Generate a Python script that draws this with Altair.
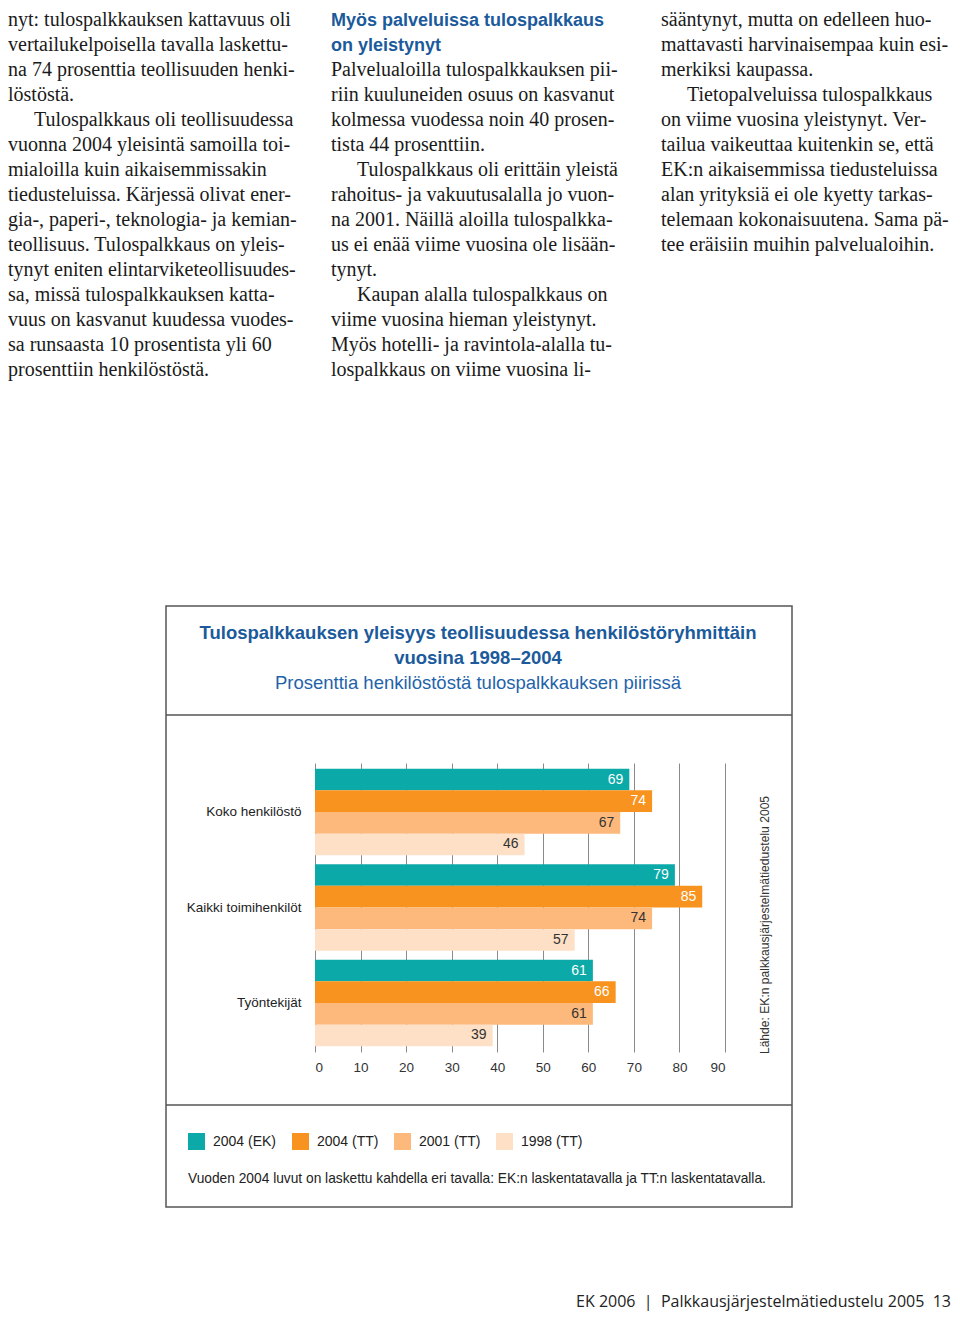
import altair as alt
import pandas as pd

# ---------------- data ----------------
groups = ["Koko henkilöstö", "Kaikki toimihenkilöt", "Työntekijät"]
series = ["2004 (EK)", "2004 (TT)", "2001 (TT)", "1998 (TT)"]
vals_2004_ek = [69, 79, 61]
vals_2004_tt = [74, 85, 66]
vals_2001_tt = [67, 74, 61]
vals_1998_tt = [46, 57, 39]
x_ticks = [0, 10, 20, 30, 40, 50, 60, 70, 80, 90]

colors = ["#0BAAA8", "#F7931E", "#FDB97B", "#FDE0C5"]

title_lines = ["Tulospalkkauksen yleisyys teollisuudessa henkilöstöryhmittäin",
               "vuosina 1998–2004"]
subtitle = "Prosenttia henkilöstöstä tulospalkkauksen piirissä"
source = "Lähde: EK:n palkkausjärjestelmätiedustelu 2005"
note = "Vuoden 2004 luvut on laskettu kahdella eri tavalla: EK:n laskentatavalla ja TT:n laskentatavalla."
footer = "EK 2006\u00a0\u00a0|\u00a0\u00a0Palkkausjärjestelmätiedustelu 2005\u00a0\u00a013"

# lines starting with ">" are paragraph openings (indented)
col_left = [
    "nyt: tulospalkkauksen kattavuus oli",
    "vertailukelpoisella tavalla laskettu-",
    "na 74 prosenttia teollisuuden henki-",
    "löstöstä.",
    ">Tulospalkkaus oli teollisuudessa",
    "vuonna 2004 yleisintä samoilla toi-",
    "mialoilla kuin aikaisemmissakin",
    "tiedusteluissa. Kärjessä olivat ener-",
    "gia-, paperi-, teknologia- ja kemian-",
    "teollisuus. Tulospalkkaus on yleis-",
    "tynyt eniten elintarviketeollisuudes-",
    "sa, missä tulospalkkauksen katta-",
    "vuus on kasvanut kuudessa vuodes-",
    "sa runsaasta 10 prosentista yli 60",
    "prosenttiin henkilöstöstä.",
]
mid_heading = ["Myös palveluissa tulospalkkaus", "on yleistynyt"]
col_mid = [
    "Palvelualoilla tulospalkkauksen pii-",
    "riin kuuluneiden osuus on kasvanut",
    "kolmessa vuodessa noin 40 prosen-",
    "tista 44 prosenttiin.",
    ">Tulospalkkaus oli erittäin yleistä",
    "rahoitus- ja vakuutusalalla jo vuon-",
    "na 2001. Näillä aloilla tulospalkka-",
    "us ei enää viime vuosina ole lisään-",
    "tynyt.",
    ">Kaupan alalla tulospalkkaus on",
    "viime vuosina hieman yleistynyt.",
    "Myös hotelli- ja ravintola-alalla tu-",
    "lospalkkaus on viime vuosina li-",
]
col_right = [
    "sääntynyt, mutta on edelleen huo-",
    "mattavasti harvinaisempaa kuin esi-",
    "merkiksi kaupassa.",
    ">Tietopalveluissa tulospalkkaus",
    "on viime vuosina yleistynyt. Ver-",
    "tailua vaikeuttaa kuitenkin se, että",
    "EK:n aikaisemmissa tiedusteluissa",
    "alan yrityksiä ei ole kyetty tarkas-",
    "telemaan kokonaisuutena. Sama pä-",
    "tee eräisiin muihin palvelualoihin.",
]

# ---------------- table ----------------
rows = []
for s, vals in zip(series, [vals_2004_ek, vals_2004_tt, vals_2001_tt, vals_1998_tt]):
    for g, v in zip(groups, vals):
        rows.append({"group": g, "series": s, "value": v})
df = pd.DataFrame(rows)

# ---------------- layout ----------------
W, H = 410, 289          # plot area
OX, OY = 315, 763        # page position of plot origin
TOTAL_W, TOTAL_H = 944, 1304
def px(x):
    return x - OX
def py(y):
    return y - OY

SANS = "Liberation Sans"
SERIF = "Liberation Serif"
BLUE = "#1B5A9B"
one = pd.DataFrame({"k": [0]})

def txt(text, x, y, **kw):
    return alt.Chart(one).mark_text(text=text, **kw).encode(
        x=alt.value(px(x)), y=alt.value(py(y)))

xscale = alt.Scale(domain=[0, 90], nice=False, zero=True)
yscale = alt.Scale(domain=groups, paddingInner=0.094, paddingOuter=0.06)

bars = alt.Chart(df).mark_bar(strokeWidth=0).encode(
    x=alt.X("value:Q", scale=xscale,
            axis=alt.Axis(values=x_ticks, grid=True, gridColor="#8a8a8a", gridWidth=1,
                          ticks=False, domain=False, labelFontSize=13.5, labelColor="#333333",
                          labelFont=SANS, labelPadding=8, title=None)),
    y=alt.Y("group:N", scale=yscale, sort=groups,
            axis=alt.Axis(ticks=False, domain=False, grid=False, labelFontSize=13.5,
                          labelColor="#222222", labelFont=SANS, labelPadding=14, title=None)),
    yOffset=alt.YOffset("series:N", sort=series,
                        scale=alt.Scale(domain=series, paddingInner=0, paddingOuter=0)),
    color=alt.Color("series:N", sort=series, scale=alt.Scale(domain=series, range=colors),
                    legend=alt.Legend(orient="none", legendX=px(188), legendY=py(1133),
                                      direction="horizontal", columns=4, title=None,
                                      symbolType="square", symbolSize=289, symbolStrokeWidth=0,
                                      symbolOpacity=1, labelFontSize=14, labelColor="#222222",
                                      labelFont=SANS, labelOffset=8, columnPadding=15, padding=0)),
)

values_txt = alt.Chart(df).mark_text(align="right", baseline="middle", dx=-6,
                                     fontSize=14, font=SANS).encode(
    x=alt.X("value:Q", scale=xscale),
    y=alt.Y("group:N", scale=yscale, sort=groups),
    yOffset=alt.YOffset("series:N", sort=series),
    text=alt.Text("value:Q"),
    color=alt.condition(alt.FieldOneOfPredicate(field="series", oneOf=series[:2]),
                        alt.value("white"), alt.value("#333333")),
)

frame = alt.Chart(one).mark_rect(fill="transparent", stroke="#555555", strokeWidth=1.5).encode(
    x=alt.value(px(166)), x2=alt.value(px(792)), y=alt.value(py(606)), y2=alt.value(py(1207)))
sep1 = alt.Chart(one).mark_rule(color="#555555", strokeWidth=1.5).encode(
    x=alt.value(px(166)), x2=alt.value(px(792)), y=alt.value(py(715)))
sep2 = alt.Chart(one).mark_rule(color="#555555", strokeWidth=1.5).encode(
    x=alt.value(px(166)), x2=alt.value(px(792)), y=alt.value(py(1105)))

LH = 25
INDENT = 26
body = dict(font=SERIF, fontSize=20, color="#1a1a1a", align="left", baseline="alphabetic")

def column(lines, x0, y0):
    out = []
    for i, line in enumerate(lines):
        ind = INDENT if line.startswith(">") else 0
        out.append(txt(line.lstrip(">"), x0 + ind, y0 + i * LH, **body))
    return out

TOP = 26  # baseline of first text line
layers = [
    frame, sep1, sep2,
    txt(title_lines, 478, 639, font=SANS, fontSize=18.5, fontWeight="bold", color=BLUE,
        align="center", baseline="alphabetic", lineHeight=25),
    txt(subtitle, 478, 689, font=SANS, fontSize=18.5, color="#1F63AA",
        align="center", baseline="alphabetic"),
    bars, values_txt,
    txt(source, 765, 925, font=SANS, fontSize=12.1, color="#333333", angle=270,
        align="center", baseline="middle"),
    txt(note, 188, 1183, font=SANS, fontSize=13.75, color="#222222", align="left",
        baseline="alphabetic"),
    txt(mid_heading, 331, TOP, font=SANS, fontSize=18, fontWeight="bold", color=BLUE,
        align="left", baseline="alphabetic", lineHeight=25),
    txt(footer, 951, 1307, font="Open Sans", fontSize=16, color="#222222", align="right",
        baseline="alphabetic"),
]
layers += column(col_left, 8, TOP)
layers += column(col_mid, 331, TOP + 2 * LH)
layers += column(col_right, 661, TOP)

chart = alt.layer(*layers).properties(
    width=W, height=H,
    autosize=alt.AutoSizeParams(type="none"),
    padding={"left": OX - 8, "top": OY - 8, "right": TOTAL_W - (OX - 8) - W,
             "bottom": TOTAL_H - (OY - 8) - H},
    background="white",
).configure_view(strokeWidth=0)

chart.save("out.html", embed_options={"renderer": "svg", "actions": False})
